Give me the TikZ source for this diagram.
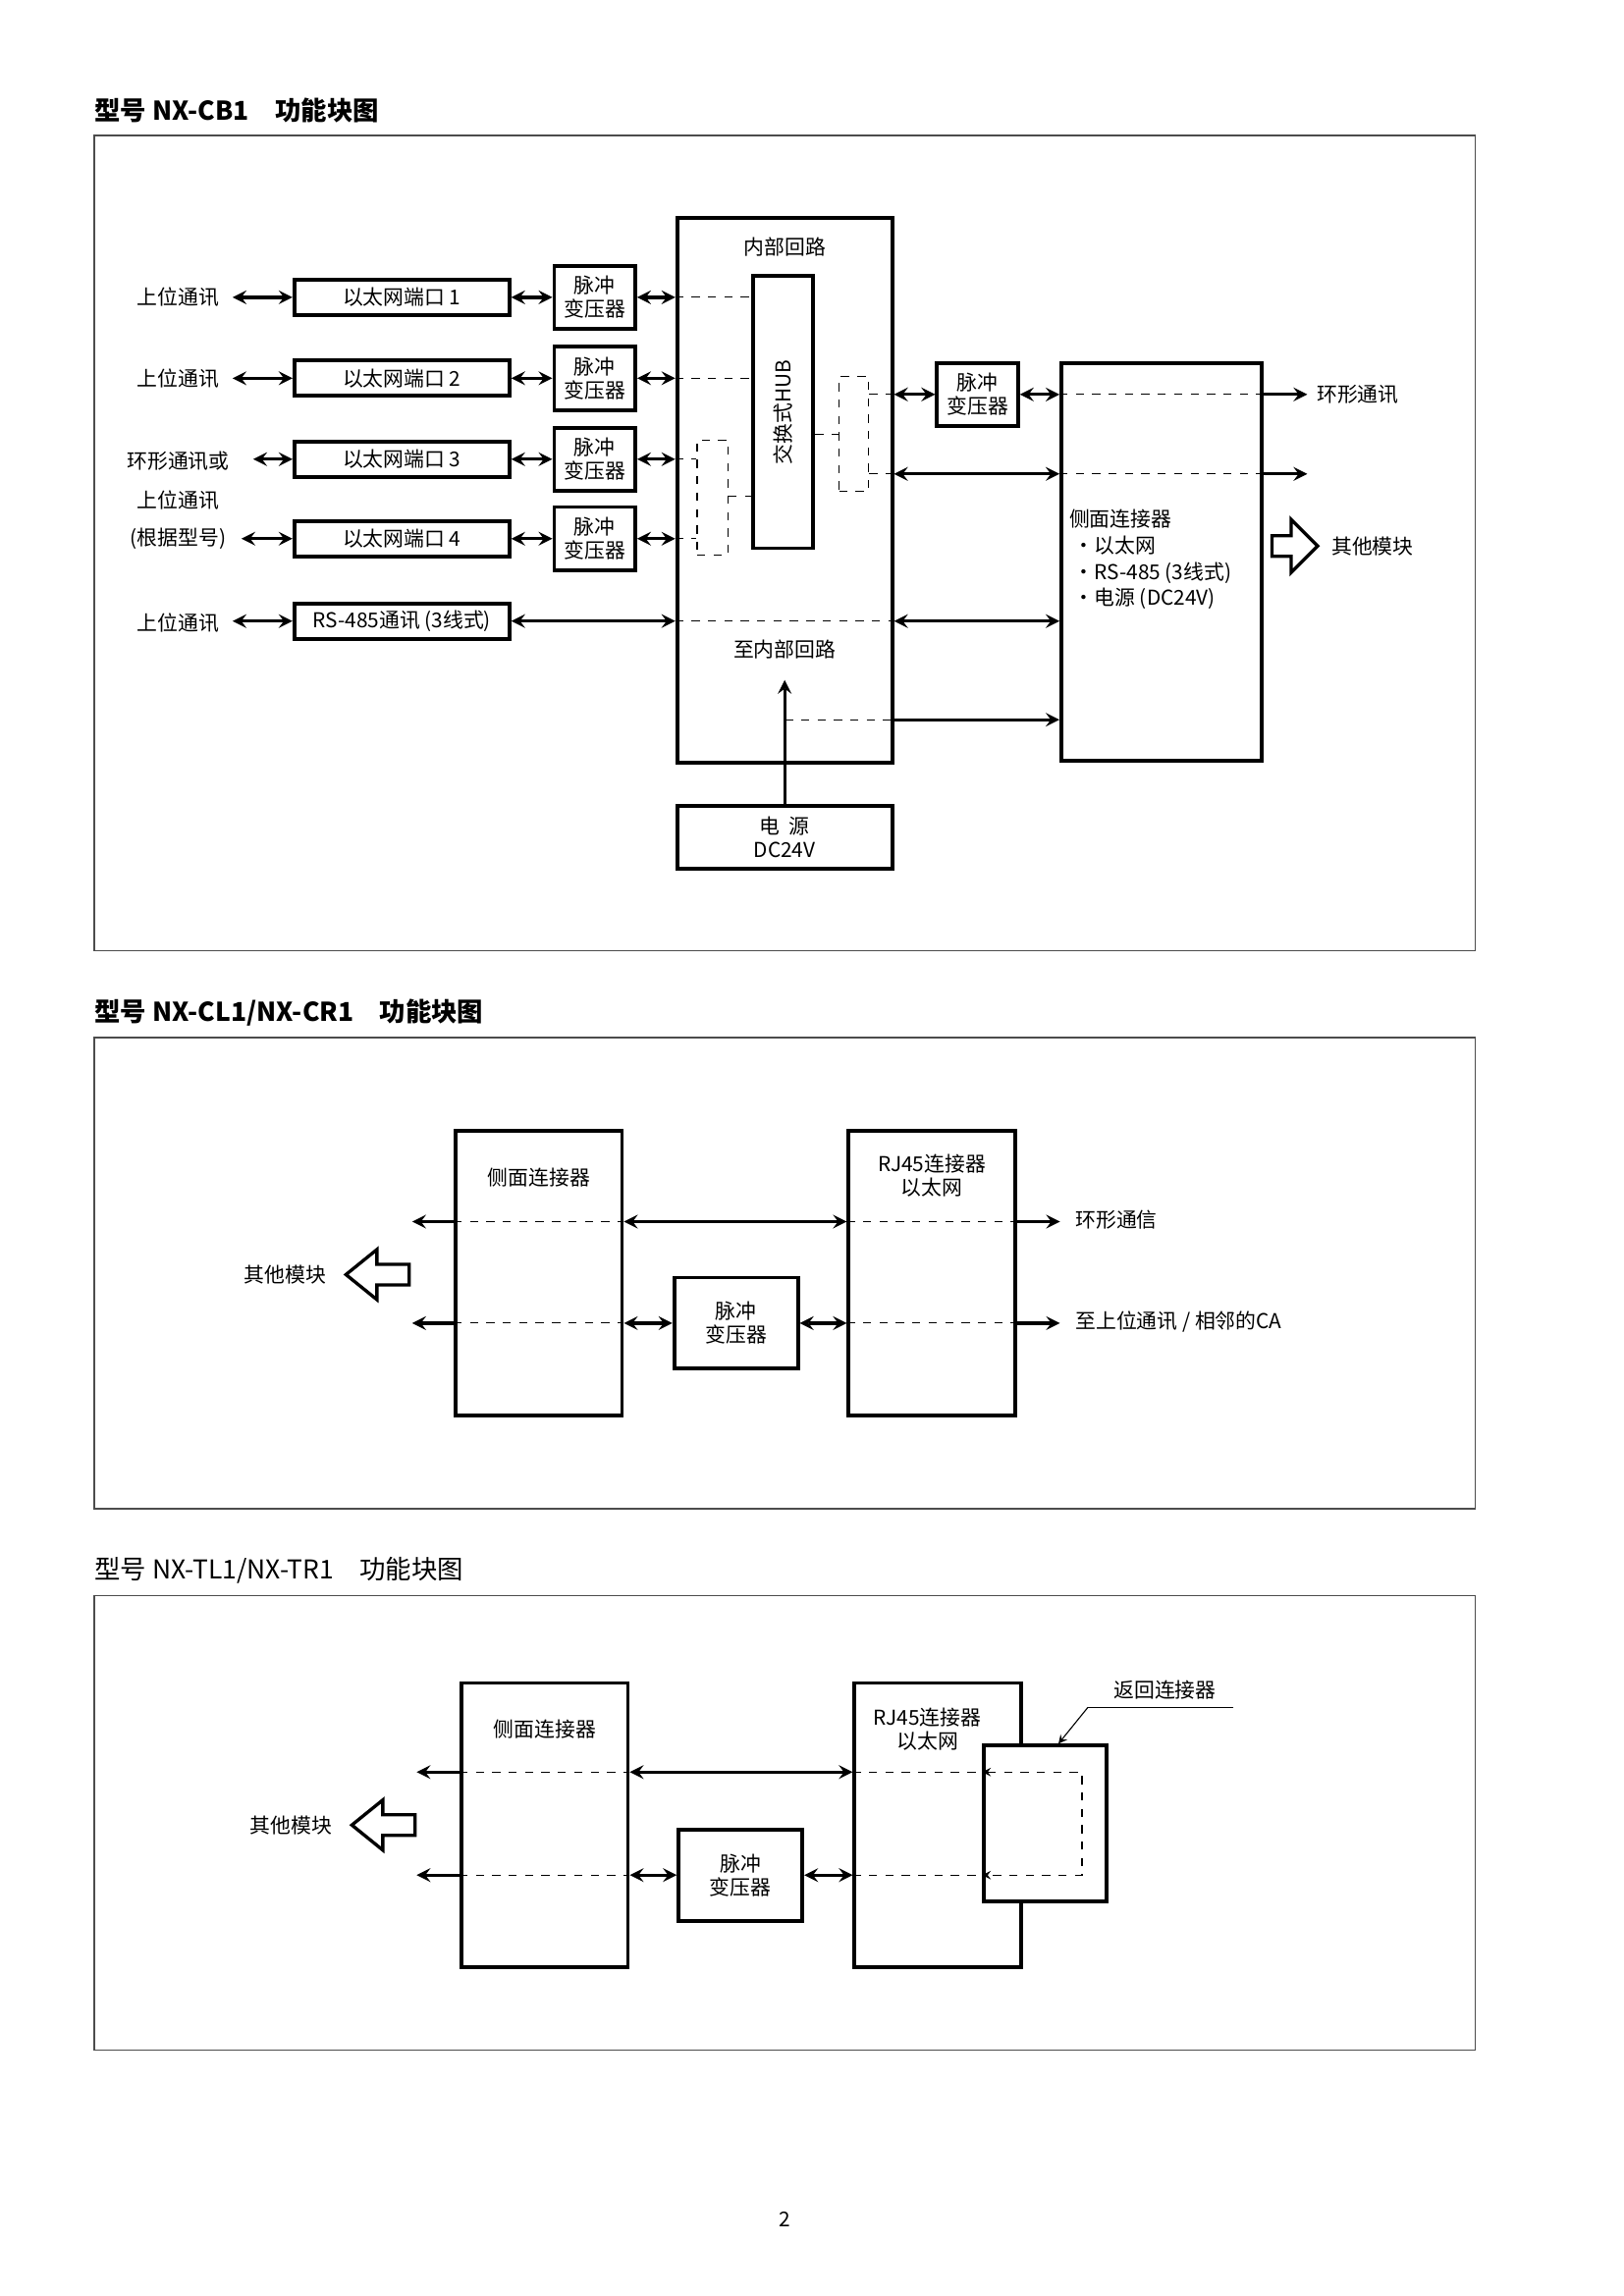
\documentclass[tikz,border=0pt]{standalone}
\usepackage{fontspec}
\setmainfont{Noto Sans CJK SC}
\usetikzlibrary{arrows, positioning}
\newcommand{\dpx}{0.5395pt}

\begin{document}
\begin{tikzpicture}[x=0.5395pt, y=-0.5395pt, font=\fontsize{7.5}{8.6}\selectfont]
		\tikzstyle{Box} = [rectangle, draw=black, line width=1.4pt, fill=white, inner sep=0pt, align=center]
		\tikzstyle{Mux} = [rectangle, draw=black, dashed, line width=0.4pt, inner sep=0pt]
		\tikzstyle{arrow} = [line width=1.2pt,->,>=stealth]
		\tikzstyle{both} = [line width=1.2pt,<->,>=stealth]
		\tikzstyle{Dash} = [dashed, line width=0.4pt]
		\tikzstyle{Frame} = [line width=0.5pt, draw=black!70]
		\tikzstyle{Title} = [anchor=west, inner sep=0pt, font=\fontsize{9.5}{11}\selectfont]
		\tikzstyle{Hollow} = [line width=1.2pt, fill=white]
		
		\useasboundingbox (0,0) rectangle (1103,1560);
		
		% NX-CB1
		\node (t1) [Title] at (64,75) {\bfseries 型号 NX-CB1\quad 功能块图};
		\draw [Frame] (64,92) rectangle (1002,646);
		
		\node (inner) [Box, minimum width=146*\dpx, minimum height=370*\dpx] at (533,333) {};
		\node (innerlbl) at (533,168) {内部回路};
		\node (tointer) at (533,441) {至内部回路};
		\node (hub) [Box, minimum width=41*\dpx, minimum height=185*\dpx] at (532,280) {};
		\node (hublbl) [rotate=90] at (hub) {交换式HUB};
		\node (lmux) [Mux, minimum width=21*\dpx, minimum height=78*\dpx] at (484,338) {};
		\node (rmux) [Mux, minimum width=20*\dpx, minimum height=78*\dpx] at (580,295) {};
		
		\foreach \i/\y in {1/202, 2/257, 3/312, 4/366} {
			\node (port\i) [Box, minimum width=146*\dpx, minimum height=24*\dpx] at (273,\y) {以太网端口 \i};
			\node (pulse\i) [Box, minimum width=55*\dpx, minimum height=43*\dpx] at (404,\y) {脉冲\\变压器};
			\draw [both] (port\i) -- (pulse\i);
			\draw [both] (pulse\i) -- (pulse\i -| inner.west);
		}
		\node (host1) at (121,202) {上位通讯};
		\node (host2) at (121,257) {上位通讯};
		\node (host3) at (121,313) {环形通讯或};
		\node (host3b) at (121,340) {上位通讯};
		\node (host4) at (121,366) {(根据型号)};
		\draw [both] (158,202) coordinate (h1) -- (port1.west);
		\draw [both] (158,257) coordinate (h2) -- (port2.west);
		\draw [both] (172,312) coordinate (h3) -- (port3.west);
		\draw [both] (164,366) coordinate (h4) -- (port4.west);
		
		\draw [Dash] (inner.west |- pulse1) -- (hub.west |- pulse1);
		\draw [Dash] (inner.west |- pulse2) -- (hub.west |- pulse2);
		\draw [Dash] (inner.west |- pulse3) -- (lmux.west |- pulse3);
		\draw [Dash] (inner.west |- pulse4) -- (lmux.west |- pulse4);
		\draw [Dash] (lmux.east |- 0,337) -- (hub.west |- 0,337);
		\draw [Dash] (hub.east |- rmux) -- (rmux.west);
		
		\node (rs) [Box, minimum width=146*\dpx, minimum height=24*\dpx] at (273,422) {RS-485通讯 (3线式)};
		\node (host5) at (121,423) {上位通讯};
		\draw [both] (158,422) coordinate (h5) -- (rs.west);
		\draw [both] (rs.east) -- (rs -| inner.west);
		
		\node (pulse5) [Box, minimum width=55*\dpx, minimum height=43*\dpx] at (664,268) {脉冲\\变压器};
		\node (side) [Box, minimum width=136*\dpx, minimum height=270*\dpx] at (789,382) {};
		\node (sidelbl) [anchor=north west, align=left, inner sep=0pt] at (726,346) {侧面连接器\\[1pt]
			\ ·以太网\\[1pt] \ ·RS-485 (3线式)\\[1pt] \ ·电源 (DC24V)};
		
		\draw [Dash] (rmux.east |- pulse5) -- (inner.east |- pulse5);
		\draw [both] (inner.east |- pulse5) -- (pulse5.west);
		\draw [both] (pulse5.east) -- (pulse5 -| side.west);
		\draw [Dash] (pulse5 -| side.west) -- (pulse5 -| side.east);
		\draw [arrow] (pulse5 -| side.east) -- (888,268) coordinate (ring);
		\node (ringlbl) [anchor=west] at (888,268) {环形通讯};
		
		\draw [Dash] (rmux.east |- 0,322) -- (inner.east |- 0,322);
		\draw [both] (inner.east |- 0,322) -- (side.west |- 0,322);
		\draw [Dash] (side.west |- 0,322) -- (side.east |- 0,322);
		\draw [arrow] (side.east |- 0,322) -- (888,322) coordinate (ext);
		
		\draw [Dash] (inner.west |- rs) -- (inner.east |- rs);
		\draw [both] (inner.east |- rs) -- (side.west |- rs);
		
		\draw [Hollow] (864,364) -- (877,364) -- (877,353) -- (895,371) -- (877,389) -- (877,378) -- (864,378) -- cycle;
		\node (other1) [anchor=west] at (898,371) {其他模块};
		
		\node (power) [Box, minimum width=146*\dpx, minimum height=43*\dpx] at (533,569) {电\ \ 源\\DC24V};
		\draw [arrow] (power.north) -- (533,462) coordinate (pin);
		\draw [Dash] (533,489) -- (inner.east |- 0,489);
		\draw [arrow] (inner.east |- 0,489) -- (side.west |- 0,489);
		
		% NX-CL1/NX-CR1
		\node (t2) [Title] at (64,688) {\bfseries 型号 NX-CL1/NX-CR1\quad 功能块图};
		\draw [Frame] (64,705) rectangle (1002,1025);
		
		\node (side2) [Box, minimum width=113*\dpx, minimum height=193*\dpx] at (366,865) {};
		\node (side2lbl) at (366,800) {侧面连接器};
		\node (rj2) [Box, minimum width=113*\dpx, minimum height=193*\dpx] at (633,865) {};
		\node (rj2lbl) [align=center] at (633,799) {RJ45连接器\\以太网};
		\node (pulse6) [Box, minimum width=84*\dpx, minimum height=62*\dpx] at (500,899) {脉冲\\变压器};
		
		\draw [arrow] (side2.west |- 0,830) -- (280,830);
		\draw [Dash] (side2.west |- 0,830) -- (side2.east |- 0,830);
		\draw [both] (side2.east |- 0,830) -- (rj2.west |- 0,830);
		\draw [Dash] (rj2.west |- 0,830) -- (rj2.east |- 0,830);
		\draw [arrow] (rj2.east |- 0,830) -- (720,830) coordinate (ring2);
		\node (ring2lbl) [anchor=west] at (724,829) {环形通信};
		
		\draw [arrow] (side2.west |- pulse6) -- (280,899);
		\draw [Dash] (side2.west |- pulse6) -- (side2.east |- pulse6);
		\draw [both] (side2.east |- pulse6) -- (pulse6.west);
		\draw [both] (pulse6.east) -- (rj2.west |- pulse6);
		\draw [Dash] (rj2.west |- pulse6) -- (rj2.east |- pulse6);
		\draw [arrow] (rj2.east |- pulse6) -- (720,899) coordinate (host6);
		\node (host6lbl) [anchor=west] at (724,898) {至上位通讯 / 相邻的CA};
		
		\draw [Hollow] (278,859) -- (256,859) -- (256,849) -- (235,866) -- (256,883) -- (256,873) -- (278,873) -- cycle;
		\node (other2) [anchor=east] at (228,866) {其他模块};
		
		% NX-TL1/NX-TR1
		\node (t3) [Title] at (64,1067) {型号 NX-TL1/NX-TR1\quad 功能块图};
		\draw [Frame] (64,1084) rectangle (1002,1393);
		
		\node (side3) [Box, minimum width=113*\dpx, minimum height=193*\dpx] at (370,1240) {};
		\node (side3lbl) at (370,1175) {侧面连接器};
		\node (rj3) [Box, minimum width=113*\dpx, minimum height=193*\dpx] at (637,1240) {};
		\node (rj3lbl) [align=center] at (630,1175) {RJ45连接器\\以太网};
		\node (loop) [Box, minimum width=83*\dpx, minimum height=106*\dpx] at (710,1239) {};
		\node (pulse7) [Box, minimum width=84*\dpx, minimum height=62*\dpx] at (503,1274) {脉冲\\变压器};
		
		\draw [arrow] (side3.west |- 0,1204) -- (283,1204);
		\draw [Dash] (side3.west |- 0,1204) -- (side3.east |- 0,1204);
		\draw [both] (side3.east |- 0,1204) -- (rj3.west |- 0,1204);
		\draw [Dash] (rj3.west |- 0,1204) -- (loop.west |- 0,1204);
		
		\draw [arrow] (side3.west |- pulse7) -- (283,1274);
		\draw [Dash] (side3.west |- pulse7) -- (side3.east |- pulse7);
		\draw [both] (side3.east |- pulse7) -- (pulse7.west);
		\draw [both] (pulse7.east) -- (rj3.west |- pulse7);
		\draw [Dash] (rj3.west |- pulse7) -- (loop.west |- pulse7);
		
		\draw [Dash, <->, >=stealth] (loop.west |- 0,1204) -- (735,1204) -- (735,1274) -- (loop.west |- 0,1274);
		
		\node (loopflag) [anchor=west] at (750,1148) {返回连接器};
		\draw [line width=0.4pt] (838,1160) -- (739,1160) coordinate (bend);
		\draw [line width=0.4pt, ->, >=stealth] (bend) -- (loop.north -| 719,0);
		
		\draw [Hollow] (282,1233) -- (260,1233) -- (260,1223) -- (239,1240) -- (260,1257) -- (260,1247) -- (282,1247) -- cycle;
		\node (other3) [anchor=east] at (232,1240) {其他模块};
		
		\node (page) at (533,1508) {2};
\end{tikzpicture}
\end{document}
